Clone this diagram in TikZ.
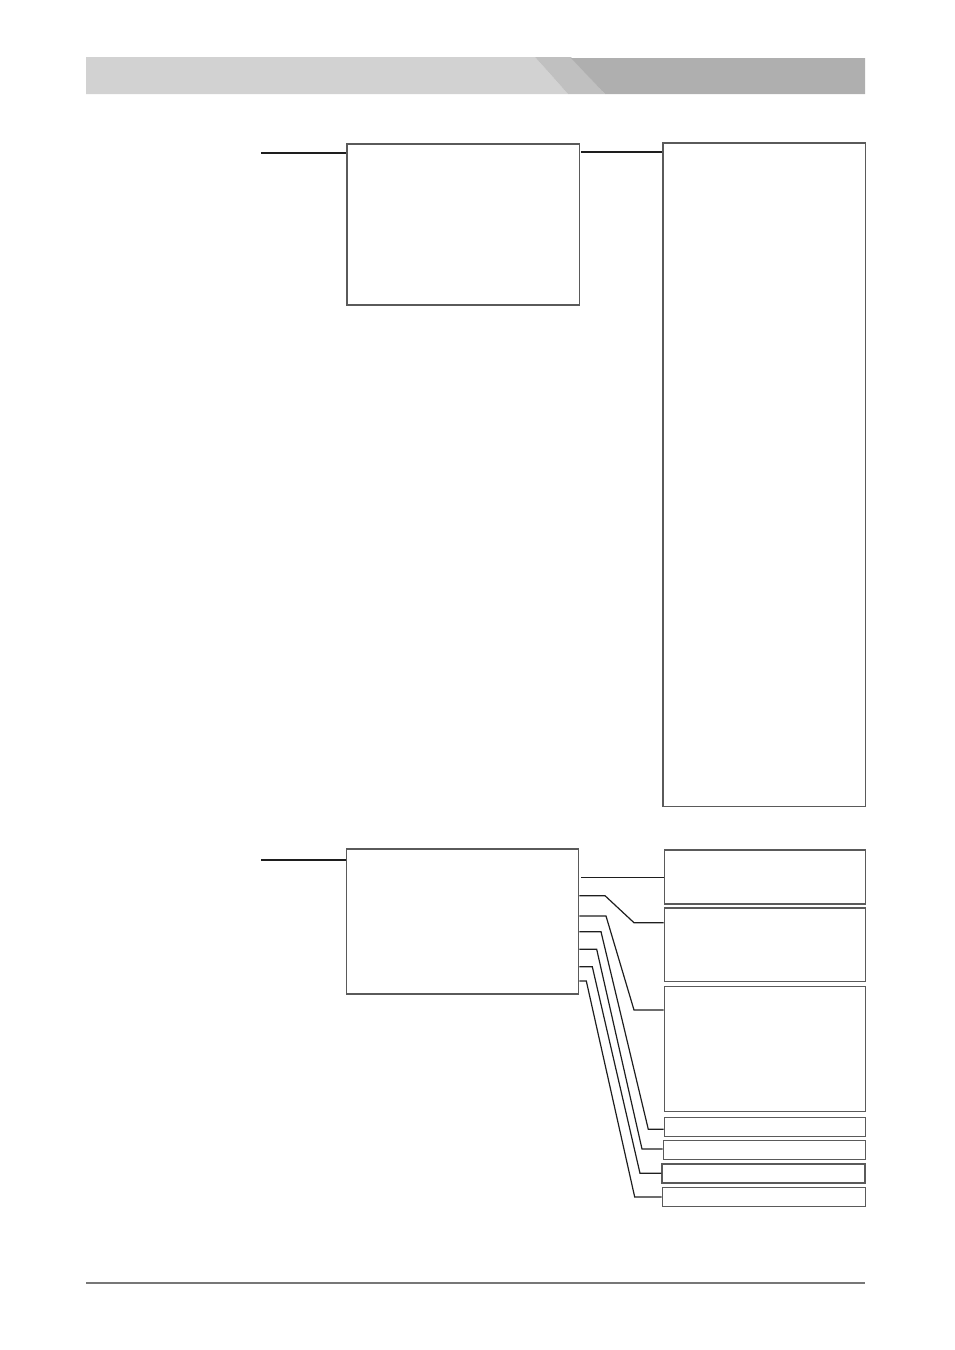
\documentclass[tikz,border=0pt]{standalone}
\usepackage{xcolor}
\definecolor{hdrlight}{HTML}{D2D2D2}
\definecolor{hdrmid}{HTML}{C0C0C0}
\definecolor{hdrdark}{HTML}{AFAFAF}
\definecolor{boxline}{HTML}{5A5A5A}
\definecolor{conline}{HTML}{1E1E1E}
\definecolor{ruleline}{HTML}{777777}
\begin{document}
\begin{tikzpicture}[x=1pt,y=-1pt,
  panel/.style={draw=boxline,line width=1.5pt,rectangle,inner sep=0pt,fill=white},
  thickcon/.style={draw=conline,line width=2pt},
  thincon/.style={draw=conline,line width=1.2pt,line join=miter}]
\useasboundingbox (0,0) rectangle (954,1350);
% header band
\fill[hdrlight] (86,57) -- (535,57) -- (568,94) -- (86,94) -- cycle;
\fill[hdrmid] (535,57) -- (571,57) -- (605,94) -- (568,94) -- cycle;
\fill[hdrdark] (571,58) -- (865,58) -- (865,94) -- (605,94) -- cycle;
% bottom rule
\draw[ruleline,line width=2pt] (86,1283) -- (865,1283);
% boxes
\node[panel,minimum width=232.5pt,minimum height=161pt] (b1) at (463,224.5) {};
\node[panel,minimum width=202.5pt,minimum height=663.5pt] (tall) at (764,474.5) {};
\node[panel,line width=1.2pt,minimum width=232.5pt,minimum height=145pt] (b2) at (462.5,921.5) {};
\node[panel,minimum width=201pt,minimum height=54pt] (ra) at (764.8,877) {};
\node[panel,minimum width=201pt,minimum height=73.7pt] (rb) at (764.8,944.8) {};
\node[panel,minimum width=201pt,minimum height=125pt] (rc) at (764.8,1049.2) {};
\node[panel,minimum width=201pt,minimum height=19pt] (rd) at (764.8,1127.2) {};
\node[panel,line width=1.2pt,minimum width=202pt,minimum height=18.6pt] (re) at (764.2,1150) {};
\node[panel,minimum width=203pt,minimum height=18.7pt] (rf) at (763.7,1173.4) {};
\node[panel,line width=1.2pt,minimum width=203pt,minimum height=18.6pt] (rg) at (763.7,1197) {};
% top connectors
\coordinate (in1) at (261,153);
\draw[thickcon] (in1) -- (in1 -| b1.west);
\draw[thickcon] (581,152) -- (tall.west |- 0,152);
% lower connectors
\coordinate (in2) at (261,860);
\draw[thincon] (in2) -- (in2 -| b2.west);
\coordinate (c1) at (581,877.3);
\draw[thincon] (c1) -- (ra.west |- c1);
\draw[thincon] (b2.east |- 0,895.7) -- (605,895.7) -- (634,922.7) -- (rb.west |- 0,922.7);
\draw[thincon] (b2.east |- 0,916) -- (606,916) -- (634,1010) -- (rc.west |- 0,1010);
\draw[thincon] (b2.east |- 0,931.7) -- (601,931.7) -- (648.3,1129.3) -- (rd.west |- 0,1129.3);
\draw[thincon] (b2.east |- 0,949.3) -- (596.7,949.3) -- (642,1149) -- (re.west |- 0,1149);
\draw[thincon] (b2.east |- 0,966.7) -- (592.3,966.7) -- (640,1173.3) -- (rf.west |- 0,1173.3);
\draw[thincon] (b2.east |- 0,981) -- (586.3,981) -- (634.7,1197) -- (rg.west |- 0,1197);
\end{tikzpicture}
\end{document}
